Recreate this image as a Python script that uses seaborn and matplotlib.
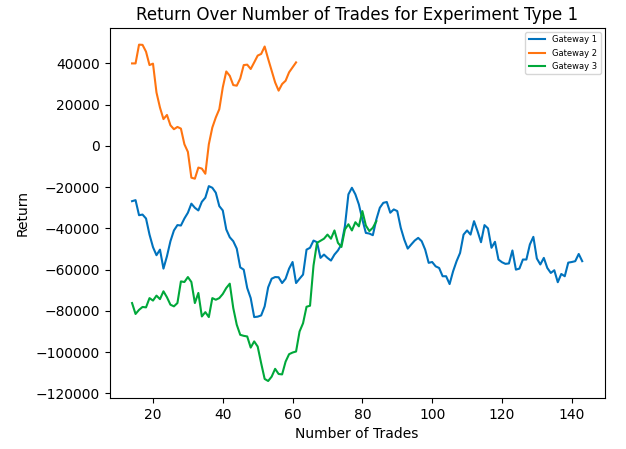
import matplotlib
matplotlib.use("Agg")
import matplotlib.pyplot as plt
import numpy as np
import pandas as pd
import seaborn as sns

# values (returns in thousands)
g1_trades = list(range(14, 144))
g1_return = [
    -26.8, -26.3, -33.6, -33.3, -35.2, -43.0, -49.1, -53.0, -50.3, -59.5,
    -53.5, -46.2, -41.0, -38.4, -38.6, -35.2, -32.4, -28.0, -30.0, -31.3,
    -27.1, -25.1, -19.5, -20.3, -22.7, -29.2, -31.3, -40.5, -44.3, -46.2,
    -49.8, -58.9, -60.0, -68.9, -73.8, -83.0, -82.8, -82.2, -77.8, -68.6,
    -64.4, -63.6, -63.7, -66.5, -64.4, -59.5, -56.3, -66.5, -64.4, -62.4,
    -50.3, -49.4, -45.9, -46.7, -54.3, -52.7, -54.3, -55.6, -52.7, -50.7,
    -47.8, -38.9, -23.5, -20.3, -23.5, -28.4, -35.7, -42.2, -42.5, -43.3,
    -35.7, -30.0, -27.6, -27.2, -32.4, -30.8, -31.6, -39.7, -45.4, -49.8,
    -47.8, -45.9, -44.6, -46.2, -50.3, -56.7, -56.3, -58.4, -59.2, -63.2,
    -63.2, -67.0, -60.8, -55.9, -51.9, -43.0, -41.0, -43.0, -36.5, -41.3,
    -46.7, -38.4, -40.0, -49.4, -46.5, -55.1, -56.4, -57.2, -57.0, -50.7,
    -60.0, -59.5, -55.1, -55.1, -47.8, -44.1, -54.6, -57.5, -54.3, -59.2,
    -61.6, -60.3, -66.1, -62.1, -63.2, -56.6, -56.3, -55.9, -52.4, -55.9,
]

g2_trades = list(range(14, 62))
g2_return = [
    40.0, 40.0, 49.1, 49.0, 45.7, 39.2, 39.9, 25.9, 18.6, 13.0,
    15.0, 10.0, 8.1, 9.2, 8.4, 0.8, -2.9, -15.4, -15.9, -10.5,
    -11.0, -13.5, 0.8, 8.9, 13.8, 17.8, 28.4, 36.1, 34.0, 29.5,
    29.2, 32.7, 39.2, 39.4, 37.3, 40.5, 43.8, 44.6, 48.2, 42.2,
    36.5, 30.8, 26.8, 30.0, 31.6, 35.7, 38.1, 40.5,
]

g3_trades = list(range(14, 85))
g3_return = [
    -76.2, -81.5, -79.5, -78.1, -78.3, -73.8, -75.0, -72.6, -74.3, -70.5,
    -73.4, -77.0, -77.8, -76.2, -65.7, -66.0, -63.6, -66.0, -76.2, -71.3,
    -82.7, -80.6, -83.0, -73.8, -74.6, -73.8, -71.8, -68.9, -66.8, -78.6,
    -86.7, -91.6, -92.1, -92.4, -97.8, -94.8, -97.3, -105.4, -113.0, -114.0,
    -111.9, -108.1, -110.6, -110.8, -104.6, -101.0, -100.2, -99.7, -90.0, -86.0,
    -78.0, -77.5, -58.0, -47.0, -46.0, -45.0, -43.0, -45.0, -41.0, -47.0,
    -49.0, -40.5, -38.0, -41.0, -37.0, -39.0, -31.6, -38.6, -41.3, -39.7,
    -36.5,
]

gateways = ["Gateway 1", "Gateway 2", "Gateway 3"]
colors = ["#0072bd", "#ff7410", "#00a83a"]

df = pd.concat([
    pd.DataFrame({"trades": g1_trades, "ret": np.array(g1_return) * 1000, "gateway": gateways[0]}),
    pd.DataFrame({"trades": g2_trades, "ret": np.array(g2_return) * 1000, "gateway": gateways[1]}),
    pd.DataFrame({"trades": g3_trades, "ret": np.array(g3_return) * 1000, "gateway": gateways[2]}),
], ignore_index=True)

fig, ax = plt.subplots(figsize=(6.26, 4.49), dpi=100)
fig.subplots_adjust(left=0.175, right=0.966, top=0.938, bottom=0.114)

sns.lineplot(data=df, x="trades", y="ret", hue="gateway", hue_order=gateways,
             palette=colors, linewidth=1.5, ax=ax)

ax.set_title("Return Over Number of Trades for Experiment Type 1")
ax.set_xlabel("Number of Trades")
ax.set_ylabel("Return")
ax.legend(loc="upper right", fontsize=6)

fig.savefig("out.png", dpi=100)
